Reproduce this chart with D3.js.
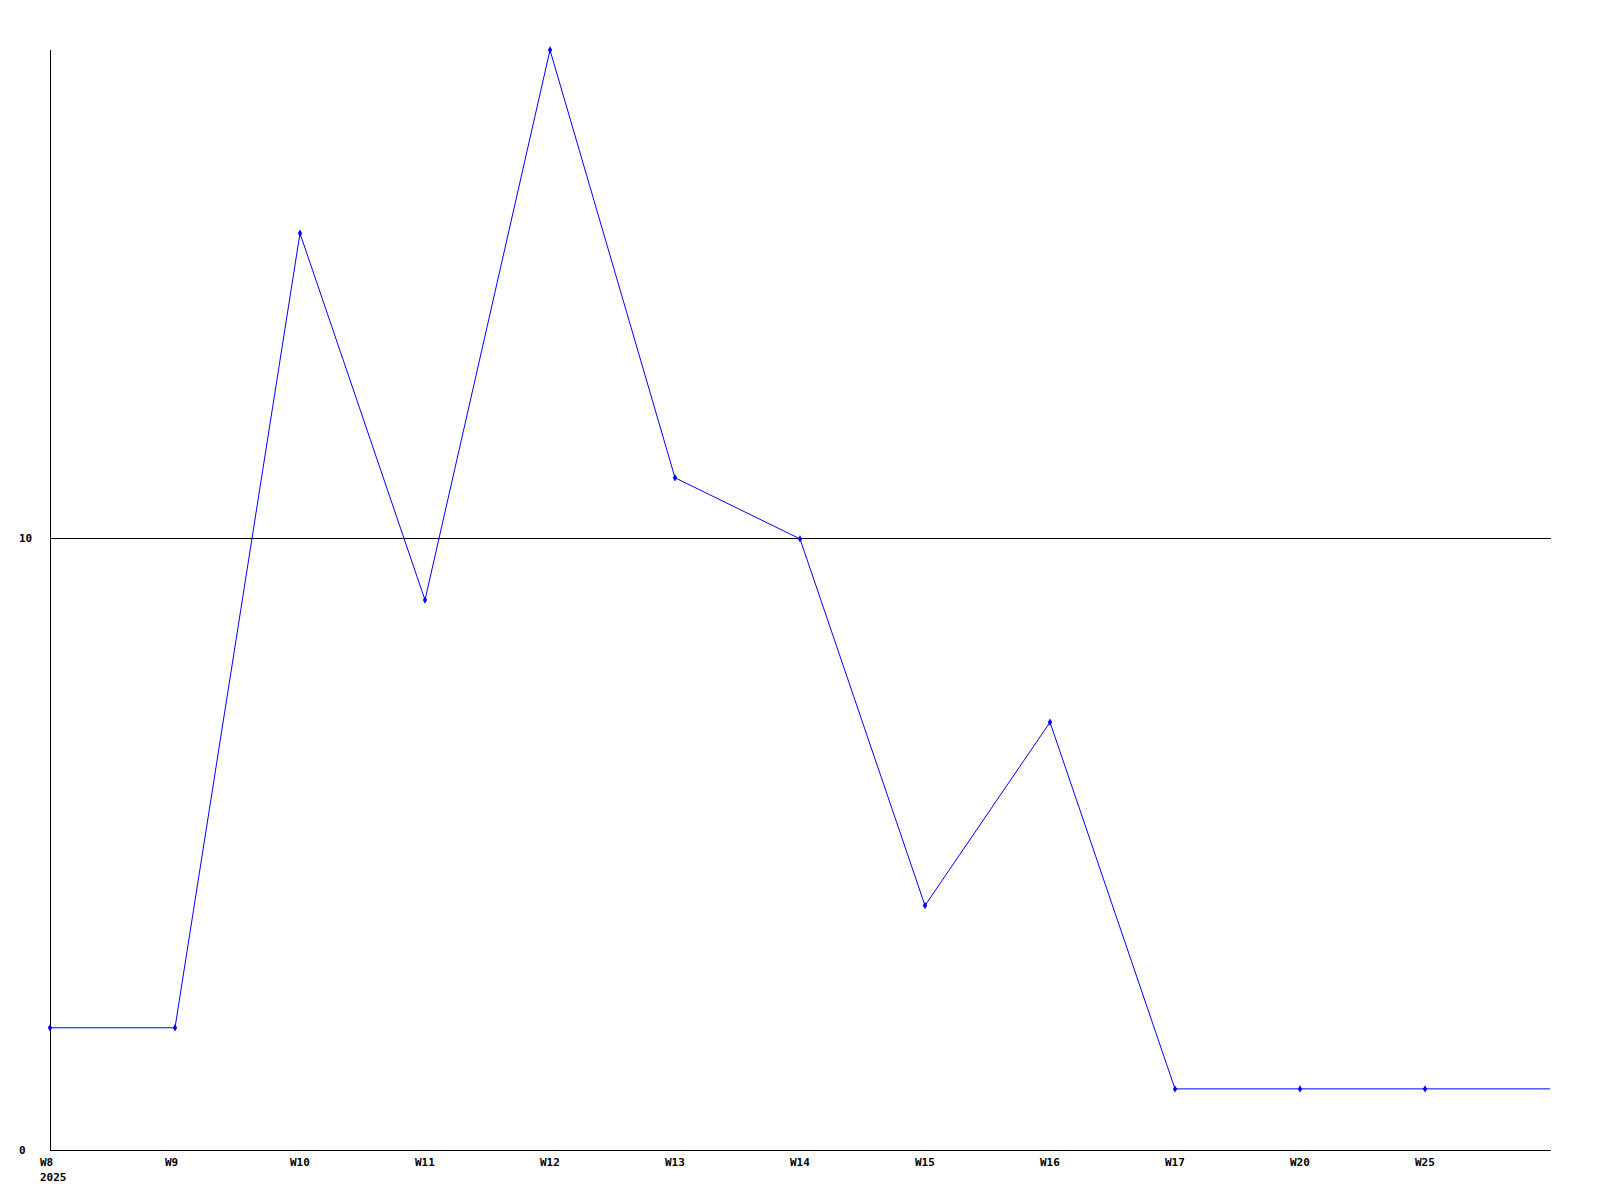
<!DOCTYPE html>
<html>
<head>
<meta charset="utf-8">
<script src="https://cdn.jsdelivr.net/npm/d3@7"></script>
<style>
  html, body { margin: 0; padding: 0; background: #fff; }
  svg { display: block; }
  text { font-family: "DejaVu Sans Mono", "Liberation Mono", monospace; font-weight: bold; font-size: 11px; fill: #000; }
</style>
</head>
<body>
<svg id="chart" width="1600" height="1200"></svg>
<script>
const categories = ["W8", "W9", "W10", "W11", "W12", "W13", "W14", "W15", "W16", "W17", "W20", "W25"];
const values = [2, 2, 15, 9, 18, 11, 10, 4, 7, 1, 1, 1];
const yTicks = [0, 10];
const yearLabel = "2025";

const svg = d3.select("#chart");
const mLeft = 50, mRight = 1550, mTop = 50, mBottom = 1150;

const x = d3.scaleLinear().domain([0, categories.length]).range([mLeft, mRight]);
const y = d3.scaleLinear().domain([0, 18]).range([mBottom, mTop]);

const snap = v => Math.floor(v) + 0.5;

// gridline(s) above zero
yTicks.filter(t => t !== 0).forEach(t => {
  svg.append("line")
    .attr("x1", mLeft).attr("x2", mRight + 1)
    .attr("y1", snap(y(t))).attr("y2", snap(y(t)))
    .attr("stroke", "#000").attr("stroke-width", 1)
    .attr("shape-rendering", "crispEdges");
});

// axes lines
svg.append("line")
  .attr("x1", snap(mLeft)).attr("x2", snap(mLeft))
  .attr("y1", mTop).attr("y2", mBottom + 1)
  .attr("stroke", "#000").attr("shape-rendering", "crispEdges");
svg.append("line")
  .attr("x1", mLeft).attr("x2", mRight + 1)
  .attr("y1", snap(mBottom)).attr("y2", snap(mBottom))
  .attr("stroke", "#000").attr("shape-rendering", "crispEdges");

// y labels
svg.selectAll("text.ylab").data(yTicks).enter().append("text")
  .attr("class", "ylab")
  .attr("x", 19)
  .attr("y", d => Math.floor(y(d)) + 4)
  .text(d => d);

// x labels
svg.selectAll("text.xlab").data(categories).enter().append("text")
  .attr("class", "xlab")
  .attr("x", (d, i) => x(i) - 10)
  .attr("y", mBottom + 16)
  .text(d => d);
svg.append("text")
  .attr("x", x(0) - 10)
  .attr("y", mBottom + 31)
  .text(yearLabel);

// line: continues at the last value to the right edge of the axis
const pts = values.map((v, i) => [x(i), y(v)]);
pts.push([x(categories.length), y(values[values.length - 1])]);
svg.append("path")
  .attr("d", d3.line()(pts))
  .attr("fill", "none")
  .attr("stroke", "#0000ff")
  .attr("stroke-width", 1);

// markers
svg.selectAll("path.mk").data(values).enter().append("path")
  .attr("class", "mk")
  .attr("transform", (d, i) => `translate(${x(i)},${y(d)})`)
  .attr("d", d3.symbol().type(d3.symbolDiamond).size(16))
  .attr("fill", "#0000ff");
</script>
</body>
</html>
